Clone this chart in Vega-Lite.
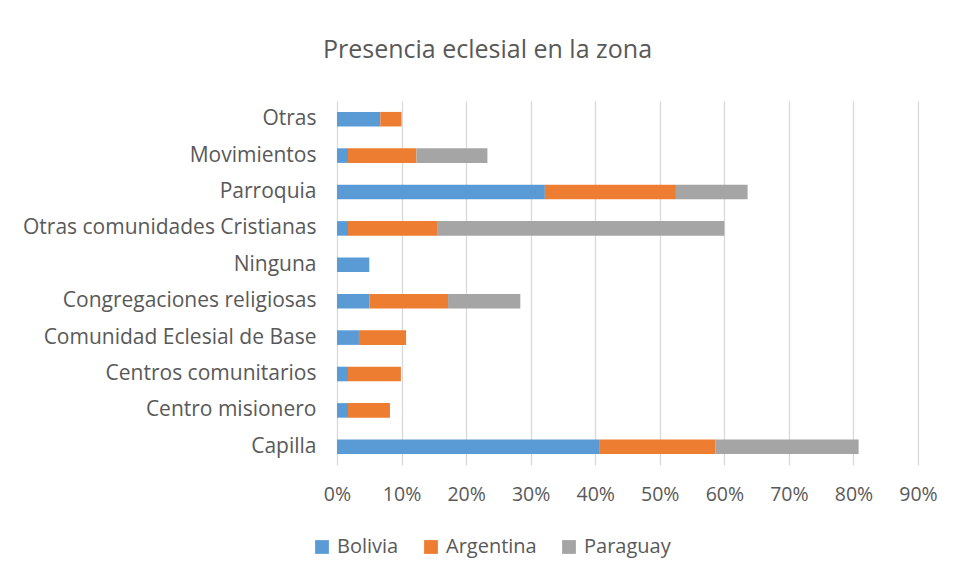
{
  "$schema": "https://vega.github.io/schema/vega-lite/v6.json",
  "autosize": {"type": "none"},
  "width": 581,
  "height": 364,
  "padding": {"left": 337, "top": 101, "right": 36, "bottom": 116},
  "background": "white",
  "title": {
    "text": "Presencia eclesial en la zona",
    "anchor": "middle",
    "dx": -140,
    "offset": 38,
    "fontSize": 25,
    "fontWeight": "normal",
    "font": "Open Sans",
    "color": "#595959"
  },
  "data": {
    "values": [
      {"cat": "Otras", "country": "Bolivia", "ord": 1, "v": 0.067},
      {"cat": "Otras", "country": "Argentina", "ord": 2, "v": 0.033},
      {"cat": "Movimientos", "country": "Bolivia", "ord": 1, "v": 0.017},
      {"cat": "Movimientos", "country": "Argentina", "ord": 2, "v": 0.106},
      {"cat": "Movimientos", "country": "Paraguay", "ord": 3, "v": 0.110},
      {"cat": "Parroquia", "country": "Bolivia", "ord": 1, "v": 0.322},
      {"cat": "Parroquia", "country": "Argentina", "ord": 2, "v": 0.203},
      {"cat": "Parroquia", "country": "Paraguay", "ord": 3, "v": 0.111},
      {"cat": "Otras comunidades Cristianas", "country": "Bolivia", "ord": 1, "v": 0.017},
      {"cat": "Otras comunidades Cristianas", "country": "Argentina", "ord": 2, "v": 0.138},
      {"cat": "Otras comunidades Cristianas", "country": "Paraguay", "ord": 3, "v": 0.445},
      {"cat": "Ninguna", "country": "Bolivia", "ord": 1, "v": 0.050},
      {"cat": "Congregaciones religiosas", "country": "Bolivia", "ord": 1, "v": 0.050},
      {"cat": "Congregaciones religiosas", "country": "Argentina", "ord": 2, "v": 0.122},
      {"cat": "Congregaciones religiosas", "country": "Paraguay", "ord": 3, "v": 0.112},
      {"cat": "Comunidad Eclesial de Base", "country": "Bolivia", "ord": 1, "v": 0.034},
      {"cat": "Comunidad Eclesial de Base", "country": "Argentina", "ord": 2, "v": 0.073},
      {"cat": "Centros comunitarios", "country": "Bolivia", "ord": 1, "v": 0.017},
      {"cat": "Centros comunitarios", "country": "Argentina", "ord": 2, "v": 0.082},
      {"cat": "Centro misionero", "country": "Bolivia", "ord": 1, "v": 0.017},
      {"cat": "Centro misionero", "country": "Argentina", "ord": 2, "v": 0.065},
      {"cat": "Capilla", "country": "Bolivia", "ord": 1, "v": 0.406},
      {"cat": "Capilla", "country": "Argentina", "ord": 2, "v": 0.180},
      {"cat": "Capilla", "country": "Paraguay", "ord": 3, "v": 0.222}
    ]
  },
  "mark": {"type": "bar"},
  "encoding": {
    "y": {
      "field": "cat",
      "type": "nominal",
      "sort": ["Otras", "Movimientos", "Parroquia", "Otras comunidades Cristianas", "Ninguna", "Congregaciones religiosas", "Comunidad Eclesial de Base", "Centros comunitarios", "Centro misionero", "Capilla"],
      "scale": {"paddingInner": 0.6, "paddingOuter": 0.3},
      "axis": {
        "title": null,
        "ticks": false,
        "domain": false,
        "labelPadding": 21,
        "labelFontSize": 21,
        "labelFont": "Open Sans",
        "labelColor": "#595959",
        "labelLimit": 400
      }
    },
    "x": {
      "field": "v",
      "type": "quantitative",
      "stack": "zero",
      "scale": {"domain": [0, 0.9], "nice": false},
      "axis": {
        "title": null,
        "format": ".0%",
        "values": [0, 0.1, 0.2, 0.3, 0.4, 0.5, 0.6, 0.7, 0.8, 0.9],
        "ticks": false,
        "domain": false,
        "grid": true,
        "gridColor": "#d9d9d9",
        "gridWidth": 1.3,
        "labelPadding": 20,
        "labelFontSize": 19.5,
        "labelFont": "Open Sans",
        "labelColor": "#595959",
        "labelFlush": false
      }
    },
    "color": {
      "field": "country",
      "type": "nominal",
      "scale": {"domain": ["Bolivia", "Argentina", "Paraguay"], "range": ["#5b9bd5", "#ed7d31", "#a5a5a5"]},
      "legend": {
        "title": null,
        "orient": "none",
        "direction": "horizontal",
        "legendX": -25,
        "legendY": 436,
        "symbolType": "square",
        "symbolSize": 190,
        "symbolStrokeWidth": 0,
        "labelFontSize": 20,
        "labelFont": "Open Sans",
        "labelColor": "#595959",
        "columnPadding": 22,
        "labelOffset": 5
      }
    },
    "order": {"field": "ord", "type": "quantitative"}
  },
  "config": {"view": {"stroke": null}}
}
